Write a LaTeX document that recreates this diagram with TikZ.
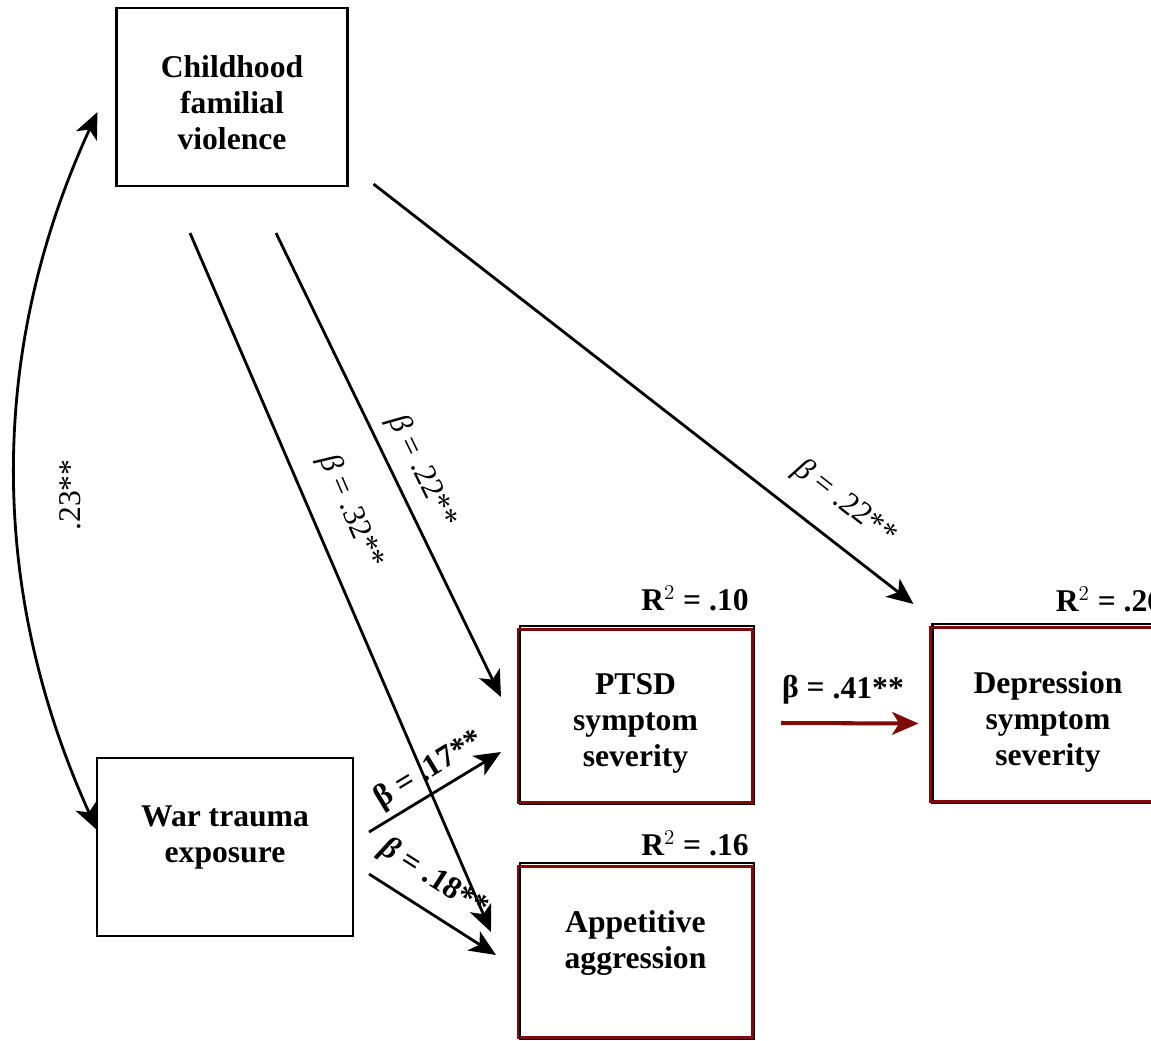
\documentclass[tikz,border=0pt]{standalone}
\usepackage{fontspec}
\setmainfont{Liberation Serif}
\usetikzlibrary{arrows.meta,calc}
\definecolor{outcomered}{RGB}{128,10,10}
\tikzstyle{var}=[rectangle,draw=black,line width=1.2pt,align=center,font=\bfseries\fontsize{18}{20.5}\selectfont]
\tikzstyle{outcome}=[var,draw=outcomered,minimum width=4.66cm]
\tikzstyle{effect}=[-{Stealth[length=15pt,width=13pt,inset=4pt]},line width=1.6pt]
\tikzstyle{coef}=[font=\fontsize{18}{20}\selectfont,sloped,above]
\tikzstyle{boldcoef}=[coef,font=\bfseries\fontsize{18}{20}\selectfont]
\tikzstyle{rsq}=[font=\bfseries\fontsize{18}{20}\selectfont,inner sep=0pt]

\begin{document}
\begin{tikzpicture}[x=0.02cm,y=-0.02cm]
    \useasboundingbox (0,0) rectangle (1151,1040);
    \clip (0,0) rectangle (1151,1040);
    % predictors
    \node[var,minimum width=4.62cm,minimum height=3.56cm] (childhood) at (232,97) {\mbox{}\\[-1pt]Childhood\\familial\\violence};
    \node[var,minimum width=5.12cm,minimum height=3.56cm] (war) at (225,847) {War trauma\\exposure\\[-6pt]\mbox{}};
    % outcomes
    \node[outcome,minimum height=3.44cm] (ptsd) at (635.5,716) {\mbox{}\\PTSD\\symptom\\severity};
    \node[outcome,minimum height=3.46cm] (depression) at (1048,714.5) {\mbox{}\\Depression\\symptom\\severity};
    \node[outcome,minimum height=3.40cm] (appetitive) at (635.5,952) {Appetitive\\aggression\\[-6pt]\mbox{}};
    \foreach \n in {ptsd,depression,appetitive} {
        \draw[line width=1.2pt] ([shift={(2,1)}]\n.south west) rectangle ([shift={(1,-3)}]\n.north east);
        \draw[line width=1.2pt,draw=outcomered] (\n.south west) rectangle (\n.north east);
    };
    \node[rsq,anchor=base east] (r2ptsd) at ($(ptsd.north east)+(-4,-18)$) {R$^2$ = .10};
    \node[rsq,anchor=base west] (r2depression) at ($(depression.north west)+(125,-15)$) {R$^2$ = .26};
    \node[rsq,anchor=base east] (r2appetitive) at ($(appetitive.north east)+(-4,-10)$) {R$^2$ = .16};
    % path start points
    \coordinate (cfv out1) at ($(childhood.south)+(-42,46)$);
    \coordinate (cfv out2) at ($(childhood.south)+(44,46)$);
    \coordinate (cfv out3) at ($(childhood.south east)+(25,-3)$);
    \coordinate (war out1) at ($(war.east)+(15,-15)$);
    \coordinate (war out2) at ($(war.east)+(15,27)$);
    % paths
    \draw[effect] (cfv out1) -- ($(appetitive.west)+(-27,-20)$) node[coef,pos=0.42,above=9pt] {\textit{β} = .32**};
    \draw[effect] (cfv out2) -- ($(ptsd.west)+(-17,-19)$) node[coef,pos=0.54,above=3pt] {\textit{β} = .22**};
    \draw[effect] (cfv out3) -- ($(depression.north west)+(-17,-23)$) node[coef,pos=0.83,above=9pt] {\textit{β} = .22**};
    \draw[effect] (war out1) -- ($(ptsd.west)+(-17,36)$) node[boldcoef,pos=0.54] {β = .17**};
    \draw[effect] (war out2) -- ($(appetitive.west)+(-22,3)$) node[boldcoef,pos=0.38,above=5pt] {\textit{β} = .18**};
    \draw[effect,draw=outcomered,line width=2.3pt] ($(ptsd.east)+(28,7)$) -- ($(depression.west)+(-12,9)$) node[boldcoef,pos=0.45,above=6pt] {β = .41**};
    % correlation
    \draw[{Stealth[length=15pt,width=13pt,inset=4pt]}-{Stealth[length=15pt,width=13pt,inset=4pt]},line width=1.6pt]
        ($(childhood.west)+(-18,15)$) .. controls (-12,350) and (-12,590) .. ($(war.west)+(1,-17)$);
    \node[font=\fontsize{18}{20}\selectfont,rotate=90] (corr) at (70,495) {.23**};
\end{tikzpicture}
\end{document}
